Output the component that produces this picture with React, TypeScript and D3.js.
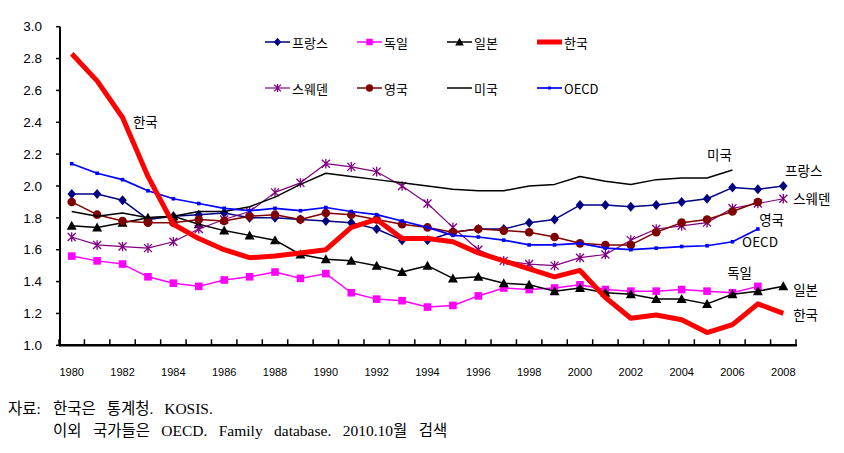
import React from "react";
import * as d3 from "d3";

const years = [1980,1981,1982,1983,1984,1985,1986,1987,1988,1989,1990,1991,1992,1993,1994,1995,1996,1997,1998,1999,2000,2001,2002,2003,2004,2005,2006,2007,2008];
const yTicks = [1.0,1.2,1.4,1.6,1.8,2.0,2.2,2.4,2.6,2.8,3.0];
const xTickYears = [1980,1982,1984,1986,1988,1990,1992,1994,1996,1998,2000,2002,2004,2006,2008];

const france = [1.95,1.95,1.91,1.79,1.81,1.82,1.83,1.80,1.80,1.79,1.78,1.77,1.73,1.66,1.66,1.71,1.73,1.73,1.77,1.79,1.88,1.88,1.87,1.88,1.90,1.92,1.99,1.98,2.00];
const germany = [1.56,1.53,1.51,1.43,1.39,1.37,1.41,1.43,1.46,1.42,1.45,1.33,1.29,1.28,1.24,1.25,1.31,1.36,1.35,1.36,1.38,1.35,1.34,1.34,1.35,1.34,1.33,1.37,null];
const japan = [1.75,1.74,1.77,1.80,1.81,1.76,1.72,1.69,1.66,1.57,1.54,1.53,1.50,1.46,1.50,1.42,1.43,1.39,1.38,1.34,1.36,1.33,1.32,1.29,1.29,1.26,1.32,1.34,1.37];
const korea = [2.83,2.66,2.43,2.06,1.76,1.67,1.60,1.55,1.56,1.58,1.60,1.74,1.79,1.67,1.67,1.65,1.58,1.53,1.48,1.43,1.47,1.30,1.17,1.19,1.16,1.08,1.13,1.26,1.20];
const sweden = [1.68,1.63,1.62,1.61,1.65,1.73,1.79,1.84,1.96,2.02,2.14,2.12,2.09,2.00,1.89,1.74,1.60,1.53,1.51,1.50,1.55,1.57,1.66,1.73,1.75,1.77,1.86,1.89,1.92];
const uk = [1.90,1.82,1.78,1.77,1.77,1.79,1.78,1.81,1.82,1.79,1.83,1.82,1.79,1.76,1.74,1.71,1.73,1.72,1.71,1.68,1.64,1.63,1.63,1.71,1.77,1.79,1.84,1.90,null];
const usa = [1.84,1.81,1.83,1.80,1.81,1.84,1.84,1.87,1.93,2.01,2.08,2.06,2.04,2.02,2.00,1.98,1.97,1.97,2.00,2.01,2.06,2.03,2.01,2.04,2.05,2.05,2.10,null,null];
const oecd = [2.14,2.08,2.04,1.97,1.92,1.89,1.86,1.845,1.86,1.845,1.865,1.84,1.82,1.78,1.74,1.69,1.68,1.66,1.63,1.63,1.64,1.61,1.60,1.61,1.62,1.625,1.65,1.73,null];

const seriesNames = ["프랑스","독일","일본","한국","스웨덴","영국","미국","OECD"];
const sourceLabel = "자료:";
const sourceLines = ["한국은 통계청. KOSIS.", "이외 국가들은 OECD. Family database. 2010.10월 검색"];

type Marker = "diamond" | "square" | "triangle" | "none" | "star" | "circle" | "small";
const series: { name: string; values: (number | null)[]; color: string; width: number; marker: Marker; msize: number }[] = [
  { name: seriesNames[0], values: france, color: "#000080", width: 1.5, marker: "diamond", msize: 5 },
  { name: seriesNames[1], values: germany, color: "#FF00FF", width: 1.5, marker: "square", msize: 3.8 },
  { name: seriesNames[2], values: japan, color: "#000000", width: 1.5, marker: "triangle", msize: 5 },
  { name: seriesNames[4], values: sweden, color: "#800080", width: 1.2, marker: "star", msize: 4 },
  { name: seriesNames[5], values: uk, color: "#800000", width: 1.5, marker: "circle", msize: 4.3 },
  { name: seriesNames[6], values: usa, color: "#000000", width: 1.5, marker: "none", msize: 0 },
  { name: seriesNames[7], values: oecd, color: "#0000FF", width: 1.7, marker: "small", msize: 1.8 },
  { name: seriesNames[3], values: korea, color: "#FF0000", width: 5, marker: "none", msize: 0 },
];

const legendOrder = [0, 1, 2, 7, 3, 4, 5, 6];

// label positions expressed in (year, value) data space
const endLabels = [
  { text: "한국", year: 1982.41, value: 2.40 },
  { text: "미국", year: 2005.0, value: 2.195 },
  { text: "프랑스", year: 2008.07, value: 2.094 },
  { text: "스웨덴", year: 2008.39, value: 1.915 },
  { text: "영국", year: 2007.05, value: 1.787 },
  { text: "OECD", year: 2006.38, value: 1.645 },
  { text: "독일", year: 2005.79, value: 1.45 },
  { text: "일본", year: 2008.39, value: 1.344 },
  { text: "한국", year: 2008.39, value: 1.187 },
];

function MarkerShape({ type, x, y, color, s }: { type: Marker; x: number; y: number; color: string; s: number }) {
  switch (type) {
    case "diamond":
      return <path d={`M${x},${y - s}L${x + s * 0.85},${y}L${x},${y + s}L${x - s * 0.85},${y}Z`} fill={color} />;
    case "square":
      return <rect x={x - s} y={y - s} width={2 * s} height={2 * s} fill={color} />;
    case "triangle":
      return <path d={`M${x},${y - s}L${x + s},${y + s * 0.8}L${x - s},${y + s * 0.8}Z`} fill={color} />;
    case "circle":
      return <circle cx={x} cy={y} r={s} fill={color} />;
    case "small":
      return <rect x={x - s} y={y - s} width={2 * s} height={2 * s} fill={color} />;
    case "star":
      return (
        <path
          d={`M${x - s},${y - s}L${x + s},${y + s}M${x - s},${y + s}L${x + s},${y - s}M${x},${y - s * 1.2}L${x},${y + s * 1.2}`}
          stroke={color}
          strokeWidth={1.3}
          fill="none"
        />
      );
    default:
      return null;
  }
}

export default function App() {
  const W = 844, H = 453;
  const x = d3.scaleBand<number>().domain(years).range([59, 796]);
  const y = d3.scaleLinear().domain([1, 3]).range([345.3, 26.7]);
  const cx = (yr: number) => (x(yr) as number) + x.bandwidth() / 2;
  const xCont = d3.scaleLinear().domain([years[0], years[years.length - 1]]).range([cx(years[0]), cx(years[years.length - 1])]);

  const line = d3
    .line<number | null>()
    .defined((d) => d != null)
    .x((_, i) => cx(years[i]))
    .y((d) => y(d as number));

  const tickXs = years.map((yr) => x(yr) as number).concat([796]);
  const font = "'Noto Sans CJK KR', 'Liberation Sans', sans-serif";
  const serif = "'Liberation Serif', 'Noto Sans CJK KR', serif";

  const legendCols = [265, 357, 447, 537];
  const legendRows = [42, 88];

  return (
    <svg width={W} height={H} style={{ position: "absolute", left: 0, top: 0, background: "#fff" }}>
      <rect width={W} height={H} fill="#fff" />
      {/* y axis */}
      <line x1={60} x2={60} y1={y(3)} y2={y(1) + 1} stroke="#000" strokeWidth={2} />
      {yTicks.map((t) => (
        <g key={t}>
          <line x1={56} x2={60} y1={y(t)} y2={y(t)} stroke="#000" strokeWidth={1.5} />
          <text x={42} y={y(t)} dy="0.35em" textAnchor="end" fontSize={13.5} fontFamily="'Liberation Sans', Arial, sans-serif" fill="#000">
            {d3.format(".1f")(t)}
          </text>
        </g>
      ))}
      {/* x axis */}
      <line x1={59} x2={797} y1={y(1)} y2={y(1)} stroke="#000" strokeWidth={2.5} />
      {tickXs.map((tx, i) => (
        <line key={i} x1={tx} x2={tx} y1={y(1) - 6} y2={y(1)} stroke="#000" strokeWidth={1.5} />
      ))}
      {xTickYears.map((yr) => (
        <text key={yr} x={cx(yr)} y={376} textAnchor="middle" fontSize={11} fontFamily="'Liberation Sans', Arial, sans-serif" fill="#000">
          {yr}
        </text>
      ))}

      {/* series */}
      {series.map((s) => (
        <g key={s.name}>
          <path d={line(s.values) || ""} fill="none" stroke={s.color} strokeWidth={s.width} strokeLinejoin="round" />
          {s.marker !== "none" &&
            s.values.map((v, i) =>
              v == null ? null : <MarkerShape key={i} type={s.marker} x={cx(years[i])} y={y(v)} color={s.color} s={s.msize} />
            )}
        </g>
      ))}

      {/* legend */}
      {legendOrder.map((si, k) => {
        const s = series[si];
        const col = k % 4;
        const row = Math.floor(k / 4);
        const lx = legendCols[col];
        const ly = legendRows[row];
        return (
          <g key={k}>
            <line x1={lx} x2={lx + 25} y1={ly} y2={ly} stroke={s.color} strokeWidth={s.width} />
            {s.marker !== "none" && <MarkerShape type={s.marker} x={lx + 12.5} y={ly} color={s.color} s={s.marker === "small" ? 1.5 : s.msize * 0.85} />}
            <text x={lx + 27} y={ly + 1} dy="0.35em" fontSize={13} fontFamily={font} fill="#000">
              {s.name}
            </text>
          </g>
        );
      })}

      {/* direct labels */}
      {endLabels.map((l, i) => (
        <text key={i} x={xCont(l.year)} y={y(l.value)} dy="0.35em" fontSize={13.5} fontFamily={font} fill="#000">
          {l.text}
        </text>
      ))}

      {/* source */}
      <text x={8} y={414} fontSize={15.5} fontFamily={serif} fill="#000">
        {sourceLabel}
      </text>
      <text x={53} y={414} fontSize={15.5} fontFamily={serif} fill="#000" wordSpacing={7}>
        {sourceLines[0]}
      </text>
      <text x={53} y={436} fontSize={15.5} fontFamily={serif} fill="#000" wordSpacing={7.5}>
        {sourceLines[1]}
      </text>
    </svg>
  );
}
